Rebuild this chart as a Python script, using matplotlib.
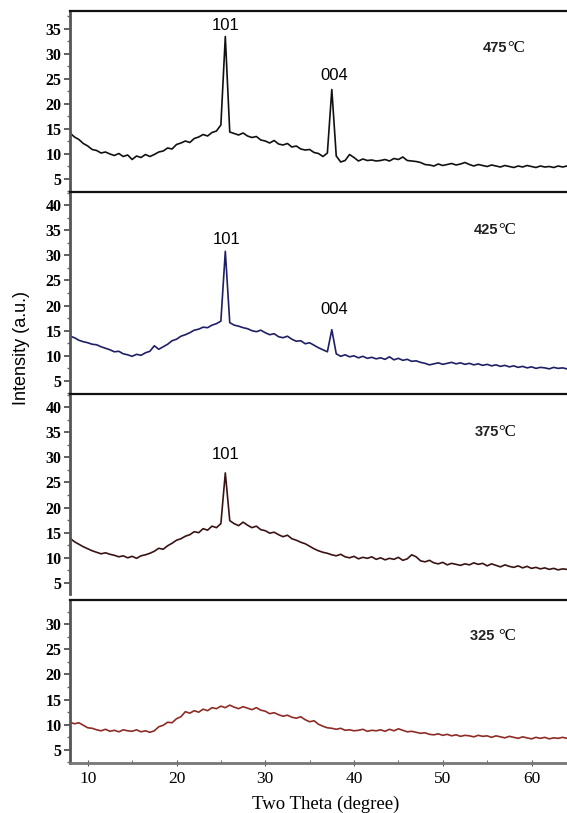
import numpy as np
from matplotlib import pyplot as plt
from matplotlib.ticker import MultipleLocator

# two theta sampled every 0.5 degree, 8 .. 64
two_theta = np.arange(8.0, 64.01, 0.5)

int_475 = [14.2, 13.4, 12.9, 12.1, 11.6, 10.9, 10.7, 10.2, 10.4, 10.0,
           9.7, 10.1, 9.5, 9.8, 8.9, 9.6, 9.3, 9.9, 9.5, 9.9,
           10.4, 10.6, 11.2, 11.0, 11.9, 12.2, 12.6, 12.3, 13.1, 13.4,
           13.9, 13.6, 14.3, 14.6, 15.8, 33.5, 14.4, 14.1, 13.8, 14.2,
           13.6, 13.3, 13.5, 12.8, 12.6, 12.2, 12.7, 12.0, 11.8, 12.1,
           11.4, 11.6, 11.0, 10.8, 10.9, 10.3, 10.1, 9.5, 10.2, 22.9,
           9.6, 8.4, 8.7, 9.9, 9.3, 8.6, 9.0, 8.7, 8.8, 8.6,
           8.7, 8.9, 8.6, 9.1, 8.9, 9.4, 8.7, 8.6, 8.5, 8.3,
           7.9, 7.8, 7.6, 8.0, 7.7, 7.9, 8.1, 7.8, 8.0, 8.3,
           7.9, 7.6, 7.9, 7.7, 7.5, 7.8, 7.6, 7.4, 7.7, 7.5,
           7.3, 7.6, 7.4, 7.7, 7.5, 7.3, 7.6, 7.4, 7.5, 7.3,
           7.6, 7.4, 7.6]

int_425 = [13.9, 13.6, 13.1, 12.8, 12.6, 12.3, 12.2, 11.8, 11.5, 11.2,
           10.8, 10.9, 10.4, 10.2, 9.9, 10.3, 10.1, 10.6, 10.9, 12.0,
           11.3, 11.8, 12.3, 13.0, 13.3, 13.9, 14.2, 14.6, 15.1, 15.3,
           15.7, 15.6, 16.1, 16.4, 16.9, 30.8, 16.6, 16.1, 15.9, 15.6,
           15.4, 15.0, 14.8, 15.1, 14.6, 14.2, 14.4, 13.8, 13.6, 13.9,
           13.3, 12.9, 13.0, 12.4, 12.6, 12.1, 11.6, 11.2, 10.8, 15.2,
           10.4, 9.9, 10.2, 9.8, 10.0, 9.6, 9.9, 9.5, 9.7, 9.4,
           9.6, 9.3, 9.8, 9.2, 9.5, 9.1, 9.3, 8.9, 9.0, 8.7,
           8.5, 8.2, 8.4, 8.6, 8.3, 8.5, 8.7, 8.4, 8.6, 8.3,
           8.5, 8.2, 8.4, 8.1, 8.3, 8.0, 8.2, 7.9, 8.1, 7.8,
           8.0, 7.7, 7.9, 7.6, 7.8, 7.5, 7.7, 7.6, 7.4, 7.7,
           7.5, 7.6, 7.4]

int_375 = [13.9, 13.2, 12.7, 12.2, 11.8, 11.4, 11.1, 10.8, 11.0, 10.7,
           10.5, 10.2, 10.4, 10.0, 10.3, 9.9, 10.4, 10.6, 10.9, 11.3,
           11.9, 11.7, 12.4, 12.9, 13.5, 13.8, 14.3, 14.6, 15.2, 15.0,
           15.8, 15.5, 16.3, 16.0, 16.8, 26.9, 17.4, 16.8, 16.4, 17.1,
           16.5, 16.0, 16.3, 15.6, 15.4, 14.9, 15.1, 14.6, 14.2, 14.5,
           13.8, 13.5, 13.1, 12.8, 12.3, 11.8, 11.4, 11.1, 10.9, 10.6,
           10.4, 10.7, 10.2, 10.0, 10.3, 9.8, 10.1, 9.9, 10.2, 9.7,
           10.0, 9.6, 9.9, 9.7, 10.1, 9.5, 9.8, 10.6, 10.2, 9.4,
           9.2, 9.5, 9.0, 8.8, 9.1, 8.6, 8.9, 8.7, 8.5, 8.8,
           8.6, 9.0, 8.7, 8.9, 8.4, 8.8, 8.5, 8.2, 8.6, 8.3,
           8.1, 8.4, 8.0, 8.3, 7.9, 8.1, 7.8, 8.0, 7.7, 7.9,
           7.6, 7.8, 7.7]

int_325 = [10.5, 10.2, 10.4, 9.9, 9.4, 9.3, 9.0, 8.8, 9.1, 8.7,
           8.9, 8.6, 9.0, 8.8, 8.7, 9.0, 8.6, 8.8, 8.5, 8.8,
           9.6, 9.9, 10.5, 10.4, 11.2, 11.6, 12.6, 12.3, 12.8, 12.5,
           13.1, 12.8, 13.4, 13.2, 13.7, 13.4, 13.9, 13.5, 13.2, 13.6,
           13.3, 13.0, 13.4, 12.9, 12.7, 12.2, 12.4, 12.0, 11.7, 11.9,
           11.5, 11.3, 11.6, 11.0, 10.6, 10.8, 10.1, 9.7, 9.4, 9.3,
           9.1, 9.3, 8.9, 9.0, 8.8, 8.9, 9.1, 8.7, 8.9, 8.8,
           9.0, 8.7, 9.1, 8.8, 9.2, 8.9, 8.6, 8.7, 8.5, 8.3,
           8.4, 8.1, 8.0, 8.2, 7.9, 8.1, 7.8, 8.0, 7.7, 7.9,
           7.8, 7.6, 7.9, 7.7, 7.8, 7.5, 7.8, 7.6, 7.4, 7.7,
           7.5, 7.3, 7.6, 7.4, 7.2, 7.5, 7.3, 7.5, 7.2, 7.4,
           7.3, 7.5, 7.3]

series = [int_475, int_425, int_375, int_325]
temps = ['475', '425', '375', '325 ']
colors = ['#111111', '#1f1f66', '#3a1414', '#8e2c26']

# peak labels: (panel, text, two theta, intensity)
peak_labels = [(0, '101', 25.5, 35.8), (0, '004', 37.8, 25.8),
               (1, '101', 25.6, 33.2), (1, '004', 37.8, 19.2),
               (2, '101', 25.5, 30.6)]

# panel boxes in pixels (top, bottom), y limits
boxes = [(11, 192), (192, 394), (394, 594), (600, 763)]
ylims = [(2.4, 38.6), (2.4, 42.6), (2.8, 42.6), (2.4, 34.8)]
yticks = [range(5, 36, 5), range(5, 41, 5), range(5, 41, 5), range(5, 31, 5)]
temp_pos = [(57.3, 30.4), (56.3, 34.2), (56.3, 34.2), (56.3, 26.8)]

W, H = 567, 813
fig = plt.figure(figsize=(W/100, H/100), dpi=100)
serif = 'Liberation Serif'
sans = 'Liberation Sans'

axes = []
for i in range(4):
    top, bot = boxes[i]
    ax = fig.add_axes([70/W, 1 - bot/H, 497/W, (bot - top)/H])
    ax.plot(two_theta, series[i], '-', color=colors[i], linewidth=1.2)
    ax.set_xlim(8, 64)
    ax.set_ylim(*ylims[i])
    ax.set_yticks(list(yticks[i]))
    ax.yaxis.set_minor_locator(MultipleLocator(2.5))
    ax.tick_params(axis='y', which='major', direction='out', length=4,
                   width=1.2, color='#444444', pad=2)
    ax.tick_params(axis='y', which='minor', direction='out', length=2,
                   width=1, color='#666666')
    for lab in ax.get_yticklabels():
        lab.set_fontfamily(serif)
        lab.set_fontweight('bold')
        lab.set_fontsize(11.5)
    ax.spines['right'].set_visible(False)
    ax.spines['left'].set_color('#555555')
    ax.spines['left'].set_linewidth(2)
    ax.spines['top'].set_color('#111111')
    ax.spines['top'].set_linewidth(1.6)
    if i < 3:
        ax.spines['bottom'].set_visible(False)
        ax.tick_params(axis='x', which='both', bottom=False, labelbottom=False)
    else:
        ax.spines['bottom'].set_color('#777777')
        ax.spines['bottom'].set_linewidth(2)
        ax.set_xticks([10, 20, 30, 40, 50, 60])
        ax.xaxis.set_minor_locator(MultipleLocator(5))
        ax.tick_params(axis='x', which='major', direction='inout', length=4,
                       color='#555555', pad=4)
        ax.tick_params(axis='x', which='minor', direction='in', length=2,
                       color='#555555')
        for lab in ax.get_xticklabels():
            lab.set_fontfamily(serif)
            lab.set_fontsize(12.5)
    tx, ty = temp_pos[i]
    ax.text(tx, ty, temps[i], family=sans, fontsize=10.5, fontweight='bold',
            color='#222222', ha='right', va='baseline')
    ax.text(tx, ty, '\u00b0C', family=serif, fontsize=12, ha='left', va='baseline')
    axes.append(ax)

for p, txt, x, y in peak_labels:
    axes[p].text(x, y, txt, family=sans, fontsize=12, ha='center', va='center')

fig.text(22/W, 1 - 348/H, 'Intensity (a.u.)', family=sans, fontsize=13,
         rotation=90, ha='center', va='center')
fig.text(326/W, 1 - 804/H, 'Two Theta (degree)', family=serif, fontsize=13.5,
         ha='center', va='center')

plt.savefig('out.png', dpi=100)
